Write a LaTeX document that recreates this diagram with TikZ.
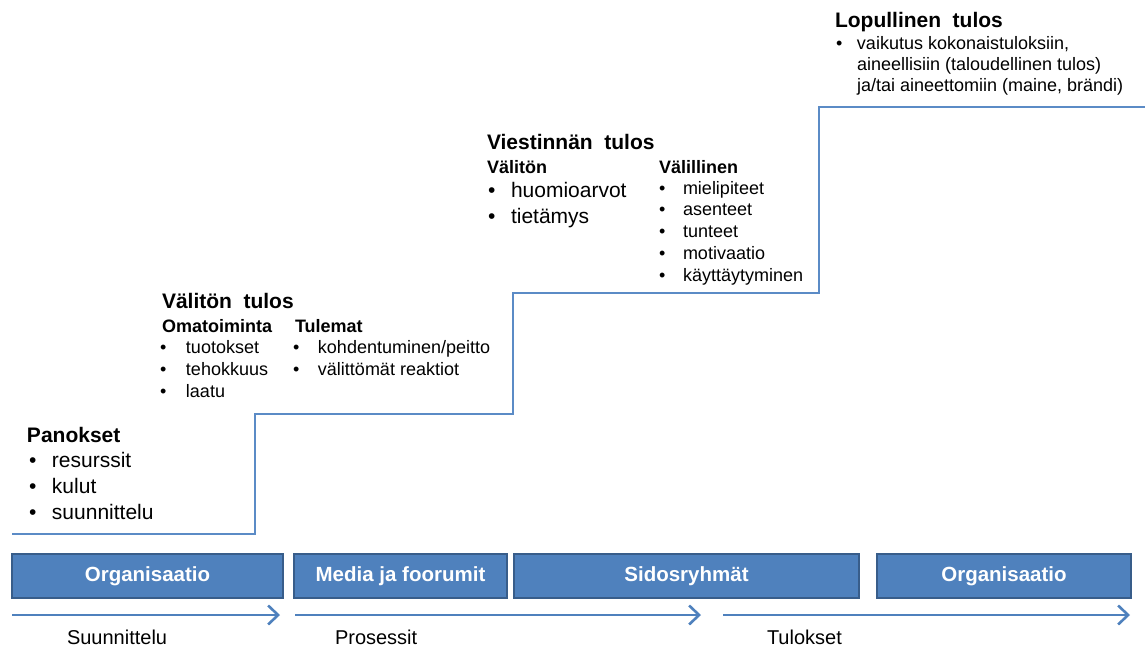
\documentclass[tikz,border=0pt]{standalone}
\usepackage{fontspec}
\setmainfont{Liberation Sans}
\usetikzlibrary{arrows.meta}
\definecolor{boxblue}{HTML}{4F81BD}
\definecolor{boxedge}{HTML}{385D8A}
\definecolor{stepline}{HTML}{5B8BC6}
\newcommand\itemdot[1]{\makebox[#1pt][l]{•}}
\begin{document}
\begin{tikzpicture}[x=1pt,y=-1pt,
  txt/.style={anchor=base west,inner sep=0pt,outer sep=0pt},
  head/.style={txt,font=\fontsize{21}{25}\selectfont\bfseries},
  subhead/.style={txt,font=\fontsize{18}{21}\selectfont\bfseries},
  big/.style={txt,font=\fontsize{21}{25}\selectfont},
  small/.style={txt,font=\fontsize{18}{21}\selectfont},
  phase/.style={txt,font=\fontsize{20}{24}\selectfont},
  stage/.style={draw=boxedge,line width=2pt,fill=boxblue,text=white,
    font=\fontsize{20.5}{24}\selectfont\bfseries,minimum height=44pt,inner sep=0pt},
  timeline/.style={draw=boxblue,line width=2.6pt,
    -{Straight Barb[length=10pt,width=19pt,line width=2.6pt]}}]
\useasboundingbox (0,0) rectangle (1148,648);

% rising staircase
\draw[stepline,line width=1.3pt] (12,534) -- (255,534) -- (255,414) -- (513,414)
  -- (513,293) -- (819,293) -- (819,107) -- (1145,107);

% step 1: inputs
\node[head] (panokset) at (27,442) {Panokset};
\node[big] (p1) at (29,467) {\itemdot{23}resurssit};
\node[big] (p2) at (29,493) {\itemdot{23}kulut};
\node[big] (p3) at (29,519) {\itemdot{23}suunnittelu};

% step 2: immediate result
\node[head] (valiton) at (162,308) {Välitön\hspace{0.55em}tulos};
\node[subhead] (omat) at (162,332) {Omatoiminta};
\node[small] (o1) at (160,353) {\itemdot{26}tuotokset};
\node[small] (o2) at (160,375) {\itemdot{26}tehokkuus};
\node[small] (o3) at (160,397) {\itemdot{26}laatu};
\node[subhead] (tulemat) at (295,332) {Tulemat};
\node[small] (t1) at (293,353) {\itemdot{25}kohdentuminen/peitto};
\node[small] (t2) at (293,375) {\itemdot{25}välittömät reaktiot};

% step 3: communication result
\node[head] (viest) at (487,149) {Viestinnän\hspace{0.55em}tulos};
\node[subhead] (vdir) at (487,173) {Välitön};
\node[big] (v1) at (488,197) {\itemdot{23}huomioarvot};
\node[big] (v2) at (488,223) {\itemdot{23}tietämys};
\node[subhead] (vind) at (659,173) {Välillinen};
\node[small] (w1) at (659,194) {\itemdot{24}mielipiteet};
\node[small] (w2) at (659,215) {\itemdot{24}asenteet};
\node[small] (w3) at (659,237) {\itemdot{24}tunteet};
\node[small] (w4) at (659,259) {\itemdot{24}motivaatio};
\node[small] (w5) at (659,281) {\itemdot{24}käyttäytyminen};

% step 4: final result
\node[head] (lop) at (835,27) {Lopullinen\hspace{0.55em}tulos};
\node[small] (l1) at (836,49) {\itemdot{21}vaikutus kokonaistuloksiin,};
\node[small] (l2) at (857,70) {aineellisiin (taloudellinen tulos)};
\node[small] (l3) at (857,91) {ja/tai aineettomiin (maine, brändi)};

% actors
\node[stage,minimum width=271pt] (org1) at (147.5,576) {Organisaatio};
\node[stage,minimum width=213pt] (media) at (400.5,576) {Media ja foorumit};
\node[stage,minimum width=345pt] (sidos) at (686.5,576) {Sidosryhmät};
\node[stage,minimum width=254pt] (org2) at (1004,576) {Organisaatio};

% phases
\coordinate (a1s) at (12,615);  \coordinate (a1e) at (280,615);
\coordinate (a2s) at (295,615); \coordinate (a2e) at (701,615);
\coordinate (a3s) at (723,615); \coordinate (a3e) at (1130,615);
\draw[timeline] (a1s) -- (a1e);
\draw[timeline] (a2s) -- (a2e);
\draw[timeline] (a3s) -- (a3e);
\node[phase] (suun) at (67,644) {Suunnittelu};
\node[phase] (pros) at (335,644) {Prosessit};
\node[phase] (tul) at (767,644) {Tulokset};
\end{tikzpicture}
\end{document}
